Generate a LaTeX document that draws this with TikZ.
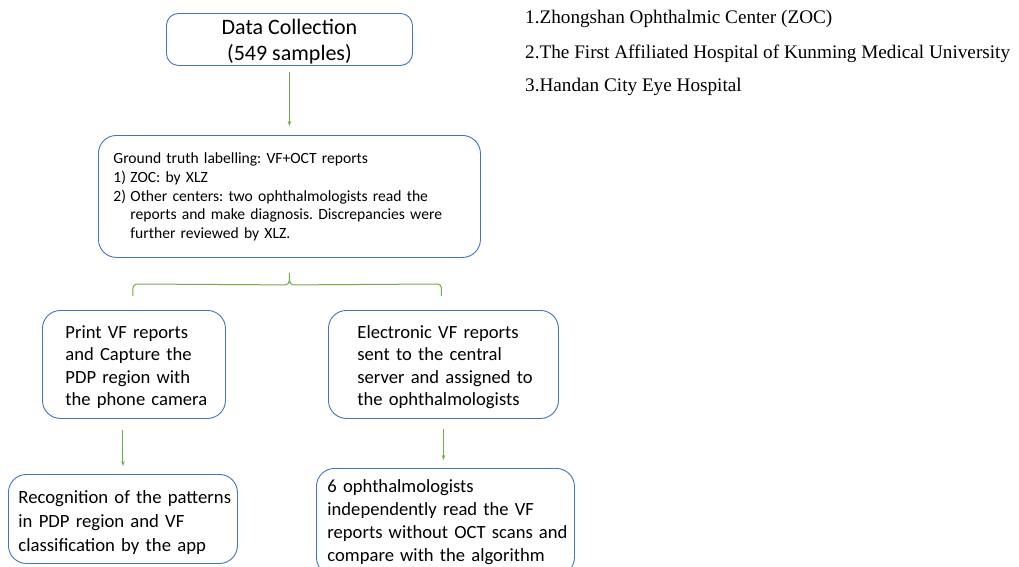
\documentclass[tikz,border=0pt]{standalone}
\usepackage{fontspec}
\setmainfont{Carlito}
\newfontfamily\timesf{Liberation Serif}
\usetikzlibrary{arrows.meta,calc}
\frenchspacing
\definecolor{boxblue}{RGB}{68,114,196}
\definecolor{arrgreen}{RGB}{112,173,71}
\tikzset{
  box/.style={draw=boxblue, line width=0.9pt, rounded corners=18pt, anchor=north west, align=left,
    text=black, inner xsep=0pt, inner ysep=0pt},
  arr/.style={draw=arrgreen, line width=1pt, -{Stealth[length=5pt,width=3.5pt]}},
  brc/.style={draw=arrgreen, line width=1pt},
  hosp/.style={anchor=west, font=\timesf\fontsize{19.2}{22}\selectfont, inner sep=0pt}
}
\newcommand{\lines}[3]{\hspace*{#1}\raisebox{#2}[\height][\depth]{\begin{tabular}{@{}l@{}}#3\end{tabular}}}
\begin{document}
\begin{tikzpicture}[x=1pt,y=-1pt]
\useasboundingbox (0,0) rectangle (1019,566);
\clip (0,0) rectangle (1019,566);
\fill[white] (0,0) rectangle (1019,566);

\node[box, rounded corners=12pt, align=center, minimum width=246pt, minimum height=51pt,
  font=\fontsize{22}{26}\selectfont] (dc) at (166,13)
  {\raisebox{-3pt}[\height][\depth]{\begin{tabular}{@{}c@{}}Data Collection\\(549 samples)\end{tabular}}};

\node[box, text width=382pt, minimum height=122pt,
  font=\fontsize{15.6}{18.7}\selectfont] (gt) at (98,135)
  {\lines{15pt}{-1pt}{Ground truth labelling: VF+OCT reports\\
   \makebox[17pt][l]{1)}ZOC: by XLZ\\
   \makebox[17pt][l]{2)}Other centers: two ophthalmologists read the\\
   \hspace*{17pt}reports and make diagnosis. Discrepancies were\\
   \hspace*{17pt}further reviewed by XLZ.}};

\node[box, text width=183pt, minimum height=108pt,
  font=\fontsize{18.6}{22.6}\selectfont] (pv) at (42,310)
  {\lines{23pt}{-3pt}{Print VF reports\\and Capture the\\PDP region with\\the phone camera}};

\node[box, text width=230pt, minimum height=108pt,
  font=\fontsize{18.6}{22.6}\selectfont] (ev) at (328,310)
  {\lines{29pt}{-3pt}{Electronic VF reports\\sent to the central\\server and assigned to\\the ophthalmologists}};

\node[box, text width=229pt, minimum height=89pt,
  font=\fontsize{18.7}{24}\selectfont] (rc) at (8,474)
  {\lines{10pt}{-4pt}{Recognition of the patterns\\in PDP region and VF\\classification by the app}};

\node[box, text width=258pt, minimum height=107pt,
  font=\fontsize{18.6}{23}\selectfont] (op) at (316,468)
  {\lines{11pt}{0pt}{6 ophthalmologists\\independently read the VF\\reports without OCT scans and\\compare with the algorithm}};

\draw[arr, shorten <=6pt, shorten >=9pt] (dc.south) -- (dc.south |- gt.north);
\draw[arr, shorten <=11pt, shorten >=8pt] (pv.south -| rc.north) -- (rc.north);
\draw[arr, shorten <=10pt, shorten >=8pt] (ev.south) -- (ev.south |- op.north);

\coordinate (bl) at ($(pv.north)+(-1,-14)$);
\coordinate (br) at ($(ev.north)+(-2,-14)$);
\coordinate (bm) at ($(dc.south |- gt.south)+(0,15)$);
\draw[brc] (bl) -- ++(0,-8) to[out=90,in=180] ++(4,-4) -- ($(bm)+(-4,12)$)
  to[out=0,in=-90] (bm) to[out=-90,in=180] ($(bm)+(4,12)$) -- ($(br)+(-4,-12)$)
  to[out=0,in=90] ++(4,4) -- (br);

\node[hosp] (h1) at (525,19) {1.Zhongshan Ophthalmic Center (ZOC)};
\node[hosp] (h2) at (525,54) {2.The First Affiliated Hospital of Kunming Medical University};
\node[hosp] (h3) at (525,87) {3.Handan City Eye Hospital};
\end{tikzpicture}
\end{document}
